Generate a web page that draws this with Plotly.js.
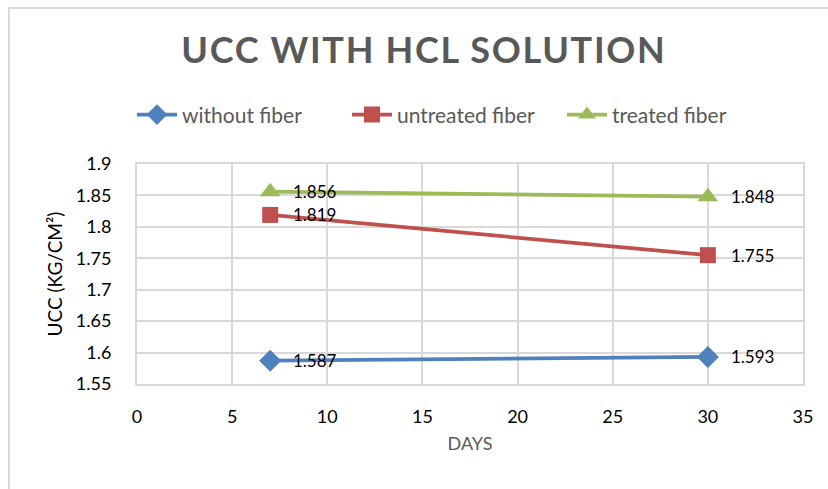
<!DOCTYPE html>
<html>
<head>
<meta charset="utf-8">
<script src="https://cdn.plot.ly/plotly-3.0.1.min.js"></script>
<style>html,body{margin:0;padding:0;background:#fff;}#chart{width:828px;height:489px;}
#chart .gtitle{letter-spacing:1.7px;}</style>
</head>
<body>
<div id="chart"></div>
<script>
var days = [7, 30];
var seriesNames = ["without fiber", "untreated fiber", "treated fiber"];
var withoutFiber = [1.587, 1.593];
var untreatedFiber = [1.819, 1.755];
var treatedFiber = [1.856, 1.848];
var colors = ["#4F81BD", "#C0504D", "#9BBB59"];
var symbols = ["diamond", "square", "triangle-up"];
var sizes = [17, 16, 18];
var values = [withoutFiber, untreatedFiber, treatedFiber];

var FONT = "Lato, 'Liberation Sans', sans-serif";
var traces = [];
var annotations = [];
for (var i = 0; i < values.length; i++) {
  traces.push({
    x: days, y: values[i], name: seriesNames[i], type: "scatter", mode: "lines+markers",
    line: {color: colors[i], width: 3.75},
    marker: {symbol: symbols[i], size: sizes[i], color: colors[i]},
    cliponaxis: false
  });
  for (var j = 0; j < days.length; j++) {
    annotations.push({
      x: days[j], y: values[i][j], xref: "x", yref: "y",
      text: values[i][j].toFixed(3), showarrow: false,
      xanchor: "left", yanchor: "middle", xshift: 21,
      font: {family: FONT, size: 17, color: "#000"}
    });
  }
}

var layout = {
  width: 828, height: 489,
  margin: {l: 137, r: 25, t: 164, b: 105},
  paper_bgcolor: "#fff", plot_bgcolor: "#fff",
  showlegend: true,
  title: {
    text: "<b>UCC WITH HCL SOLUTION</b>",
    x: 0.512, xref: "container", xanchor: "center",
    y: 0.896, yref: "container", yanchor: "middle",
    font: {family: FONT, size: 36, color: "#595959"}
  },
  legend: {
    orientation: "h", x: -0.0075, xanchor: "left", y: 1.223, yanchor: "middle",
    font: {family: FONT, size: 21, color: "#595959"},
    itemwidth: 40, entrywidth: 160, entrywidthmode: "pixels", traceorder: "normal"
  },
  xaxis: {
    range: [0, 35], dtick: 5, tick0: 0,
    showgrid: true, gridcolor: "#d9d9d9", gridwidth: 2,
    showline: true, linecolor: "#d9d9d9", linewidth: 2, mirror: true,
    zeroline: false,
    ticks: "outside", ticklen: 15, tickcolor: "rgba(0,0,0,0)",
    tickfont: {family: FONT, size: 18, color: "#000"},
    title: {text: "DAYS", standoff: 12, font: {family: FONT, size: 18, color: "#595959"}}
  },
  yaxis: {
    range: [1.55, 1.9], dtick: 0.05, tick0: 1.55,
    showgrid: true, gridcolor: "#d9d9d9", gridwidth: 2,
    showline: true, linecolor: "#d9d9d9", linewidth: 2, mirror: true,
    zeroline: false,
    ticks: "outside", ticklen: 20, tickcolor: "rgba(0,0,0,0)",
    tickfont: {family: FONT, size: 18, color: "#000"},
    title: {text: "UCC (KG/CM²)", standoff: 8, font: {family: FONT, size: 19, color: "#000"}}
  },
  annotations: annotations,
  shapes: [{
    type: "rect", xref: "paper", yref: "paper",
    x0: -0.1922, x1: 1.2, y0: -0.8, y1: 1.709,
    line: {color: "#d9d9d9", width: 2}, fillcolor: "rgba(0,0,0,0)", layer: "below"
  }]
};

Plotly.newPlot("chart", traces, layout, {displayModeBar: false, staticPlot: true});
</script>
</body>
</html>
